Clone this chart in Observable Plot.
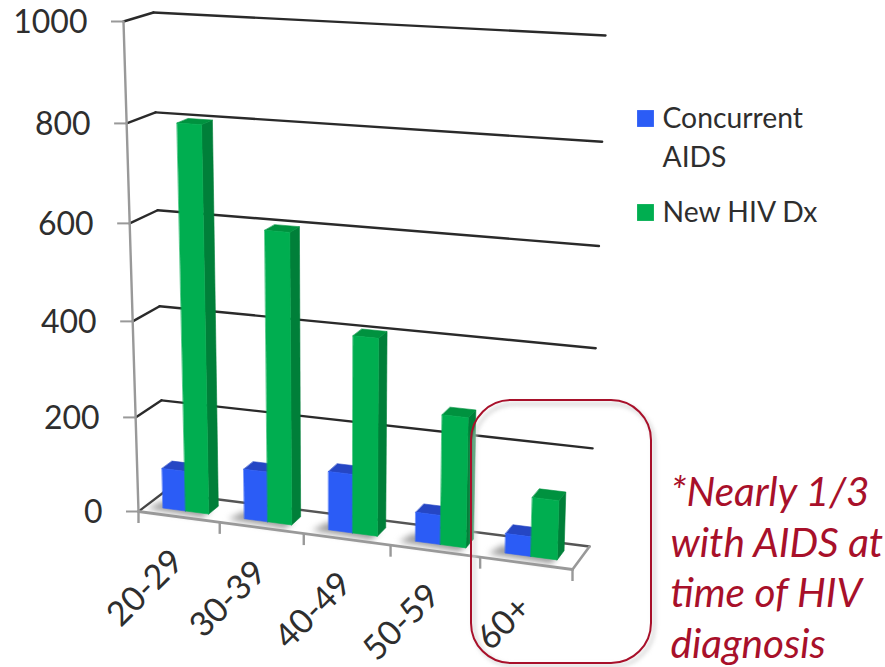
<!DOCTYPE html>
<html>
<head>
<meta charset="utf-8">
<style>
  html, body { margin: 0; padding: 0; background: #fff; }
</style>
<script src="https://cdn.jsdelivr.net/npm/d3@7"></script>
<script src="https://cdn.jsdelivr.net/npm/@observablehq/plot@0.6"></script>
</head>
<body>
<div id="chart"></div>
<script>
// HIV diagnoses by age group, drawn as a 3-D column chart.
const categories = ["20-29", "30-39", "40-49", "50-59", "60+"];
const concurrentAids = [85, 105, 122, 60, 40];
const newHivDx = [800, 600, 405, 265, 120];
const valueTicks = [0, 200, 400, 600, 800, 1000];
const noteLines = ["*Nearly 1/3", "with AIDS at", "time of HIV", "diagnosis"];
const legendRows = [
  {label: "Concurrent", color: "#2b5cf6", swatch: true, row: 118},
  {label: "AIDS", color: null, swatch: false, row: 157},
  {label: "New HIV Dx", color: "#00ae50", swatch: true, row: 212}
];

// Corners of the chart box on screen, keyed by [category, depth, value] ends.
const box = {
  "000": [138, 511], "100": [572, 569], "010": [163, 492], "110": [589, 546],
  "001": [123, 21],  "101": [589, 48],  "011": [153, 12],  "111": [605, 35]
};
const warpU = u => 0.92 * u + 0.08 * u * u;
const warpV = v => 0.95 * v + 0.05 * v * v;

// Project a chart position: t in category units, w in depth 0..1, value in data units.
function project(t, w, value) {
  const u = warpU(t / categories.length), v = warpV(value / 1000);
  const out = [0, 0];
  for (const a of [0, 1]) for (const b of [0, 1]) for (const c of [0, 1]) {
    const k = (a ? u : 1 - u) * (b ? w : 1 - w) * (c ? v : 1 - v);
    const p = box[`${a}${b}${c}`];
    out[0] += k * p[0];
    out[1] += k * p[1];
  }
  return {x: out[0], y: out[1]};
}

const polygon = (points, fill, extra = {}) =>
  Plot.line(points, {x: "x", y: "y", curve: "linear-closed", fill, stroke: fill, strokeWidth: 0.6, ...extra});
const segment = (a, b, stroke, strokeWidth) =>
  Plot.line([a, b], {x: "x", y: "y", stroke, strokeWidth});

const depthFront = 0.3, depthBack = 0.7;
const barSlots = [[0.215, 0.495], [0.495, 0.78]];
const shades = [
  {front: "#2b5cf6", top: "#2546c4", side: "#1f3fb0"},
  {front: "#00ae50", top: "#00923f", side: "#007f39"}
];

function column(i, slot, value) {
  const [s0, s1] = barSlots[slot], c = shades[slot];
  const t0 = i + s0, t1 = i + s1;
  return [
    polygon([project(t1, depthFront, 0), project(t1, depthBack, 0), project(t1, depthBack, value), project(t1, depthFront, value)], c.side),
    polygon([project(t0, depthFront, value), project(t1, depthFront, value), project(t1, depthBack, value), project(t0, depthBack, value)], c.top),
    polygon([project(t0, depthFront, 0), project(t1, depthFront, 0), project(t1, depthFront, value), project(t0, depthFront, value)], c.front)
  ];
}

const floorShadows = categories.map((_, i) =>
  polygon([project(i + 0.06, 0.2, 0), project(i + 0.75, 0.13, 0), project(i + 0.75, 0.5, 0), project(i + 0.13, 0.6, 0)], "#9a9a9a", {imageFilter: "blur(3px)"})
);

const grid = valueTicks.filter(v => v > 0).flatMap(v => [
  segment(project(0, 0, v), project(0, 1, v), "#2a2a2a", 2.4),
  segment(project(0, 1, v), project(5, 1, v), "#2a2a2a", 2.4)
]);

const axisLines = [
  segment(project(0, 0, 0), project(0, 1, 0), "#444", 2.2),
  segment(project(0, 1, 0), project(5, 1, 0), "#555", 2.4),
  segment(project(5, 1, 0), project(5, 0, 0), "#999", 2.6),
  segment(project(0, 0, 0), project(5, 0, 0), "#999", 2.8),
  segment(project(0, 0, 0), project(0, 0, 1000), "#999", 2.4)
];

const tickRows = valueTicks.map(v => ({...project(0, 0, v), v}));
const edgeRows = d3.range(categories.length + 1).map(i => project(i, 0, 0));
const labelRows = categories.map((name, i) => ({...project(i + 0.5, 0, 0), name}));
const noteRows = noteLines.map((text, i) => ({text, row: i}));

const plot = Plot.plot({
  width: 885,
  height: 667,
  margin: 0,
  x: {domain: [0, 885], range: [0, 885], axis: null},
  y: {domain: [0, 667], range: [0, 667], axis: null},
  style: {fontFamily: "Lato, sans-serif", background: "#fff", overflow: "visible"},
  marks: [
    ...floorShadows,
    ...grid,
    ...axisLines,
    Plot.ruleX(edgeRows, {x: "x", y1: "y", y2: d => d.y + 12, stroke: "#999", strokeWidth: 2.4}),
    Plot.ruleY(tickRows, {y: "y", x1: d => d.x - 12, x2: "x", stroke: "#999", strokeWidth: 2}),
    ...categories.flatMap((_, i) => [
      ...column(i, 0, concurrentAids[i]),
      ...column(i, 1, newHivDx[i])
    ]),
    Plot.text(tickRows, {x: "x", y: "y", text: d => String(d.v), textAnchor: "end", dx: -36, dy: 1, fontSize: 32, fill: "#2e2e2e"}),
    Plot.text(labelRows, {x: "x", y: "y", text: "name", rotate: -45, textAnchor: "end", dx: -1, dy: 39, fontSize: 34, fill: "#2e2e2e"}),
    Plot.rect([{x1: 474, x2: 654, y1: 404, y2: 666}], {x1: "x1", x2: "x2", y1: "y1", y2: "y2", rx: 40, fill: "none", stroke: "#d4d4d4", strokeWidth: 3, imageFilter: "blur(2px)"}),
    Plot.rect([{x1: 471, x2: 651, y1: 400, y2: 663}], {x1: "x1", x2: "x2", y1: "y1", y2: "y2", rx: 40, fill: "none", stroke: "#a8102a", strokeWidth: 2}),
    Plot.dot(legendRows.filter(d => d.swatch), {x: 645, y: "row", symbol: "square", r: 9.5, fill: "color", stroke: "none"}),
    Plot.text(legendRows, {x: 662, y: "row", text: "label", textAnchor: "start", fontSize: 28.3, fill: "#2e2e2e"}),
    Plot.text(noteRows, {x: 670, y: d => 493 + d.row * 50.5, text: "text", textAnchor: "start", fontSize: 40.5, fontStyle: "italic", fill: "#a8102a"})
  ]
});
document.getElementById("chart").append(plot);
</script>
</body>
</html>
